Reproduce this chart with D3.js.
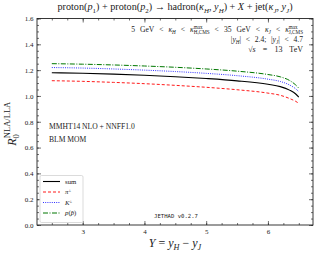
<!DOCTYPE html>
<html>
<head>
<meta charset="utf-8">
<script src="https://cdn.jsdelivr.net/npm/d3@7"></script>
<style>
  body { margin: 0; background: #fff; }
  text { font-family: "Liberation Serif", "DejaVu Serif", serif; fill: #222; }
</style>
</head>
<body>
<div id="chart"></div>
<script>
// rapidity interval Y
var rapidity = [2.5, 3.0, 3.5, 4.0, 4.5, 5.0, 5.5, 6.0, 6.2, 6.35, 6.45, 6.5];
// R_0 NLA/LLA per hadron species
var sumVals  = [1.180, 1.176, 1.169, 1.160, 1.149, 1.135, 1.117, 1.090, 1.072, 1.045, 1.015, 0.990];
var pionVals = [1.118, 1.113, 1.105, 1.095, 1.082, 1.067, 1.048, 1.022, 1.005, 0.980, 0.958, 0.943];
var kaonVals = [1.220, 1.216, 1.209, 1.200, 1.189, 1.175, 1.157, 1.130, 1.112, 1.085, 1.055, 1.033];
var protVals = [1.250, 1.246, 1.240, 1.232, 1.222, 1.209, 1.192, 1.166, 1.148, 1.120, 1.085, 1.060];

var xTicks = [3, 4, 5, 6];
var yTicks = [0.0, 0.2, 0.4, 0.6, 0.8, 1.0, 1.2, 1.4, 1.6];

var series = [
  {name: "sum", vals: sumVals, color: "#000000", dash: null, width: 1.1},
  {name: "pi", vals: pionVals, color: "#ff0000", dash: "3,2", width: 0.9},
  {name: "K", vals: kaonVals, color: "#3333ff", dash: "1,1.2", width: 1.0},
  {name: "p", vals: protVals, color: "#007700", dash: "5,1.5,1,1.5", width: 1.0}
];

var margin = {top: 18.5, right: 7, bottom: 31, left: 37},
    W = 320, H = 256,
    width = W - margin.left - margin.right,
    height = H - margin.top - margin.bottom;

var svg = d3.select("#chart").append("svg")
    .attr("width", W).attr("height", H);

var g = svg.append("g")
    .attr("transform", "translate(" + margin.left + "," + margin.top + ")");

var x = d3.scaleLinear().domain([2.26, 6.73]).range([0, width]);
var y = d3.scaleLinear().domain([0, 1.6]).range([height, 0]);

// axes with inward ticks
var minorX = d3.range(2.5, 6.74, 0.25);
var minorY = d3.range(0, 1.601, 0.05);

function styleAxis(sel) {
  sel.select(".domain").remove();
  sel.selectAll("line").attr("stroke", "#333").attr("stroke-width", 0.7);
  sel.selectAll("text").style("font-size", "7px").attr("fill", "#444")
     .style("font-family", "'Liberation Serif', serif");
}

g.append("g").attr("transform", "translate(0," + height + ")")
  .call(d3.axisBottom(x).tickValues(minorX).tickSize(-2).tickFormat(""))
  .call(styleAxis);
g.append("g").attr("transform", "translate(0," + height + ")")
  .call(d3.axisBottom(x).tickValues(xTicks).tickSize(-4).tickPadding(4).tickFormat(d3.format("d")))
  .call(styleAxis);
g.append("g")
  .call(d3.axisTop(x).tickValues(minorX).tickSize(-2).tickFormat(""))
  .call(styleAxis);
g.append("g")
  .call(d3.axisTop(x).tickValues(xTicks).tickSize(-4).tickFormat(""))
  .call(styleAxis);

g.append("g")
  .call(d3.axisLeft(y).tickValues(minorY).tickSize(-2).tickFormat(""))
  .call(styleAxis);
g.append("g")
  .call(d3.axisLeft(y).tickValues(yTicks).tickSize(-4).tickPadding(3.5).tickFormat(d3.format(".1f")))
  .call(styleAxis);
g.append("g").attr("transform", "translate(" + width + ",0)")
  .call(d3.axisRight(y).tickValues(minorY).tickSize(-2).tickFormat(""))
  .call(styleAxis);
g.append("g").attr("transform", "translate(" + width + ",0)")
  .call(d3.axisRight(y).tickValues(yTicks).tickSize(-4).tickFormat(""))
  .call(styleAxis);

// frame
g.append("rect").attr("width", width).attr("height", height)
  .attr("fill", "none").attr("stroke", "#222").attr("stroke-width", 0.9);

// curves
var line = d3.line()
  .x(function(d, i) { return x(rapidity[i]); })
  .y(function(d) { return y(d); })
  .curve(d3.curveMonotoneX);

series.forEach(function(s) {
  g.append("path")
    .datum(s.vals)
    .attr("fill", "none")
    .attr("stroke", s.color)
    .attr("stroke-width", s.width)
    .attr("stroke-dasharray", s.dash)
    .attr("d", line);
});

// helper: append pieces to a text element; pieces are [str, kind]
// kind: "n" normal, "i" italic, "s" subscript, "si" italic subscript, "u" superscript stacked over previous sub
function rich(t, pieces, fs) {
  var small = fs * 0.68, lastSub = null, shift = 0, pad = 0;
  pieces.forEach(function(p) {
    var str = p[0], kind = p[1] || "n";
    var ts = t.append("tspan").text(str);
    var target = 0;
    if (kind === "i" || kind === "si") ts.style("font-style", "italic");
    if (kind === "s" || kind === "si") { target = fs * 0.28; ts.style("font-size", small + "px"); }
    if (kind === "u") { target = -fs * 0.42; ts.style("font-size", small + "px"); }
    if (target !== shift) { ts.attr("dy", target - shift); shift = target; }
    if (pad > 0) { ts.attr("dx", pad); pad = 0; }
    if (kind === "u" && lastSub) {
      var subLen = lastSub.node().getComputedTextLength();
      ts.attr("dx", -subLen);
      pad = Math.max(0, subLen - ts.node().getComputedTextLength());
    }
    lastSub = (kind === "s" || kind === "si") ? ts : null;
  });
}

// rich text whose word spacing is widened (math-like) to reach the wanted width
function spaced(parent, xx, yy, anchor, pieces, fs, target) {
  var t = parent.append("text").attr("x", xx).attr("y", yy)
    .attr("text-anchor", anchor).style("font-size", fs + "px");
  rich(t, pieces, fs);
  var w = t.node().getBBox().width;
  var nSp = pieces.map(function(p) { return (p[0].match(/ /g) || []).length; })
    .reduce(function(a, b) { return a + b; }, 0);
  if (nSp > 0 && target > w) t.style("word-spacing", ((target - w) / nSp) + "px");
  return t;
}

// title
var title = svg.append("text").attr("x", 175).attr("y", 10)
  .attr("text-anchor", "middle").style("font-size", "10.2px");
rich(title, [["proton("], ["p", "i"], ["1", "s"], [") + proton("], ["p", "i"], ["2", "s"],
  [") \u2192 hadron("], ["\u03BA", "i"], ["H", "si"], [", "], ["y", "i"], ["H", "si"],
  [") + "], ["X", "i"], [" + jet("], ["\u03BA", "i"], ["J", "si"], [", "], ["y", "i"], ["J", "si"], [")"]], 10.2);

// kinematic annotations
spaced(g, width - 10, 13.5, "end", [["5 GeV < "], ["\u03BA", "i"], ["H", "si"], [" < "], ["\u03BA", "i"], ["H,CMS", "s"], ["max", "u"],
  [" < 35 GeV < "], ["\u03BA", "i"], ["J", "si"], [" < "], ["\u03BA", "i"], ["J,CMS", "s"], ["max", "u"]], 7.6, 172);
spaced(g, width - 10, 23.5, "end", [["|"], ["y", "i"], ["H", "si"], ["| < 2.4;   |"], ["y", "i"], ["J", "si"], ["| < 4.7"]], 7.6, 78);
spaced(g, width - 10, 33.5, "end", [["\u221A"], ["s", "i"], [" = 13 TeV"]], 8, 55);

// PDF / scheme labels
g.append("text").attr("x", 12).attr("y", 110).style("font-size", "7.6px").text("MMHT14 NLO + NNFF1.0");
g.append("text").attr("x", 12).attr("y", 123).style("font-size", "7.6px").text("BLM MOM");

// watermark
g.append("text").attr("x", 139).attr("y", 199).attr("text-anchor", "middle")
  .style("font-family", "'DejaVu Sans Mono', monospace").style("font-size", "5.6px")
  .attr("fill", "#888").text("JETHAD v0.2.7");

// legend
var leg = g.append("g").attr("transform", "translate(3,157)");
leg.append("rect").attr("width", 43).attr("height", 47).attr("rx", 1.5)
  .attr("fill", "#fff").attr("stroke", "#ccc").attr("stroke-width", 0.7);
var legLabels = [
  [{t: "sum", i: false}],
  [{t: "\u03C0", i: true}, {t: "\u00B1", sup: true}],
  [{t: "K", i: true}, {t: "\u00B1", sup: true}],
  [{t: "p", i: true}, {t: "(", i: false}, {t: "p\u0304", i: true}, {t: ")", i: false}]
];
series.forEach(function(s, k) {
  var yy = 6 + k * 10.5;
  leg.append("line").attr("x1", 3).attr("x2", 20).attr("y1", yy).attr("y2", yy)
    .attr("stroke", s.color).attr("stroke-width", s.width).attr("stroke-dasharray", s.dash);
  var t = leg.append("text").attr("x", 25).attr("y", yy + 2.2).style("font-size", "6.8px");
  legLabels[k].forEach(function(p) {
    var ts = t.append("tspan").text(p.t);
    if (p.i) ts.style("font-style", "italic");
    if (p.sup) ts.attr("baseline-shift", "super").style("font-size", "4.8px");
  });
});

// axis titles
var yl = svg.append("text")
  .attr("transform", "translate(15.5," + (margin.top + height / 2 + 2) + ") rotate(-90)")
  .attr("text-anchor", "middle").style("font-size", "12px");
yl.append("tspan").style("font-style", "italic").text("R");
yl.append("tspan").attr("dy", 3).style("font-size", "8.5px").text("0");
yl.append("tspan").attr("dx", "-4").attr("dy", "-8.5").style("font-size", "8.5px").text("NLA/LLA");

var xl = svg.append("text").attr("x", margin.left + width / 2).attr("y", 247)
  .attr("text-anchor", "middle").style("font-size", "12px");
rich(xl, [["Y", "i"], [" = "], ["y", "i"], ["H", "si"], [" \u2212 "], ["y", "i"], ["J", "si"]], 12);
</script>
</body>
</html>
